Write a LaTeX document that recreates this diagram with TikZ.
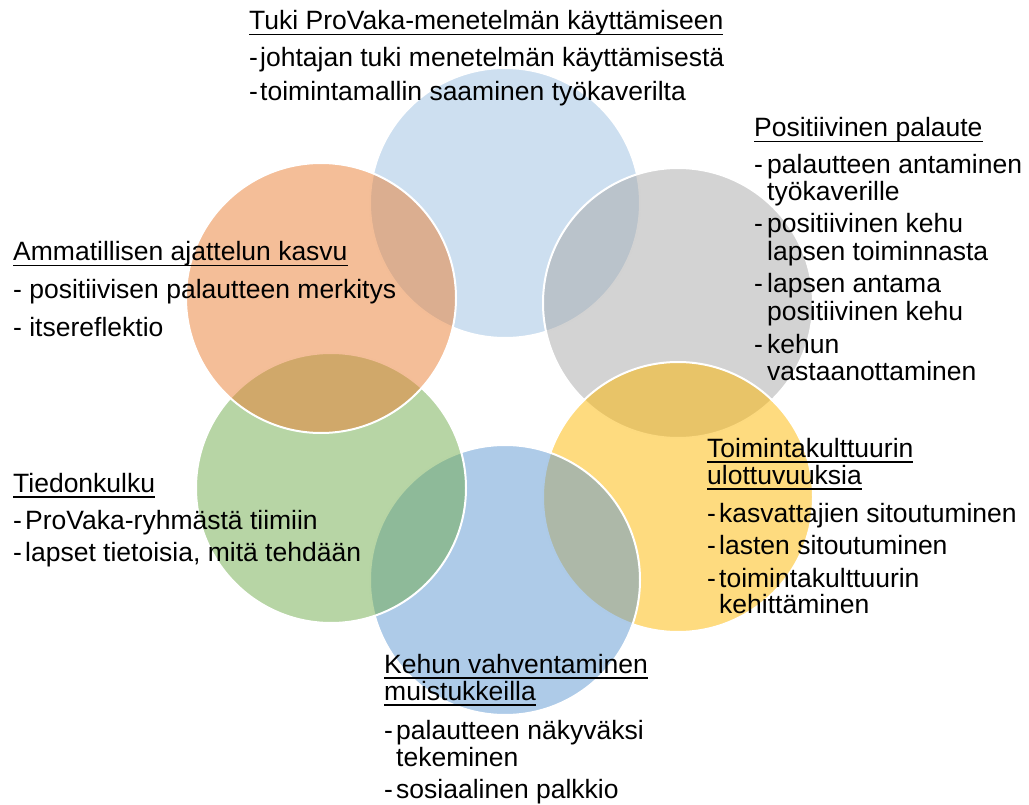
\documentclass[tikz,border=0pt]{standalone}
\usepackage{fontspec}
\setmainfont{Liberation Sans}
\definecolor{cBlueA}{RGB}{155,191,225}
\definecolor{cGray}{RGB}{167,167,167}
\definecolor{cYellow}{RGB}{253,183,0}
\definecolor{cGreen}{RGB}{111,171,75}
\definecolor{cOrange}{RGB}{233,125,49}
\definecolor{cBlueB}{RGB}{93,151,209}
\newcommand\ulx[1]{\setbox0\hbox{#1}\rlap{\rule[-5.5pt]{\wd0}{1.9pt}}\box0}
\newcommand\dsh[1]{\makebox[#1][l]{-}}
\tikzset{
  circ/.style={circle, minimum size=270pt, inner sep=0pt, draw=white, line width=2pt, fill opacity=0.5},
  tx/.style={anchor=base west, inner sep=0pt, font=\fontsize{26.5pt}{30pt}\selectfont}
}
\begin{document}
\begin{tikzpicture}[x=1pt,y=-1pt]
\useasboundingbox (0,0) rectangle (1029,805);
% circles
\node[circ, fill=cBlueA]  (cTop)    at (505,203) {};
\node[circ, fill=cGray]   (cGrayC)  at (678,303) {};
\node[circ, fill=cYellow] (cYel)    at (678,497) {};
\node[circ, fill=cBlueB]  (cBot)    at (505,580) {};
\node[circ, fill=cGreen]  (cGrn)    at (331,488) {};
\node[circ, fill=cOrange] (cOra)    at (321,298) {};
% top block
\node[tx] (a0) at (249,30)  {\ulx{Tuki ProVaka-menetelmän käyttämiseen}};
\node[tx] (a1) at (249,67)  {\dsh{11pt}johtajan tuki menetelmän käyttämisestä};
\node[tx] (a2) at (249,101) {\dsh{11pt}toimintamallin saaminen työkaverilta};
% right top block
\node[tx] (b0) at (754,137) {\ulx{Positiivinen palaute}};
\node[tx] (b1) at (754,174) {\dsh{13pt}palautteen antaminen};
\node[tx] (b2) at (767,201) {työkaverille};
\node[tx] (b3) at (754,233) {\dsh{13pt}positiivinen kehu};
\node[tx] (b4) at (767,261) {lapsen toiminnasta};
\node[tx] (b5) at (754,293) {\dsh{13pt}lapsen antama};
\node[tx] (b6) at (767,320) {positiivinen kehu};
\node[tx] (b7) at (754,353) {\dsh{13pt}kehun};
\node[tx] (b8) at (767,381) {vastaanottaminen};
% left top block
\node[tx] (c0) at (13,261) {\ulx{Ammatillisen ajattelun kasvu}};
\node[tx] (c1) at (13,299) {- positiivisen palautteen merkitys};
\node[tx] (c2) at (13,337) {- itsereflektio};
% left bottom block
\node[tx] (d0) at (13,492) {\ulx{Tiedonkulku}};
\node[tx] (d1) at (13,529) {\dsh{12pt}ProVaka-ryhmästä tiimiin};
\node[tx] (d2) at (13,561) {\dsh{12pt}lapset tietoisia, mitä tehdään};
% right bottom block
\node[tx] (e0) at (707,457) {\ulx{Toimintakulttuurin}};
\node[tx] (e1) at (707,484) {\ulx{ulottuvuuksia}};
\node[tx] (e2) at (707,522) {\dsh{12pt}kasvattajien sitoutuminen};
\node[tx] (e3) at (707,554) {\dsh{12pt}lasten sitoutuminen};
\node[tx] (e4) at (707,587) {\dsh{12pt}toimintakulttuurin};
\node[tx] (e5) at (719,613) {kehittäminen};
% bottom block
\node[tx] (f0) at (384,673) {\ulx{Kehun vahventaminen}};
\node[tx] (f1) at (384,700) {\ulx{muistukkeilla}};
\node[tx] (f2) at (384,739) {\dsh{12pt}palautteen näkyväksi};
\node[tx] (f3) at (396,766) {tekeminen};
\node[tx] (f4) at (384,798) {\dsh{12pt}sosiaalinen palkkio};
\end{tikzpicture}
\end{document}
